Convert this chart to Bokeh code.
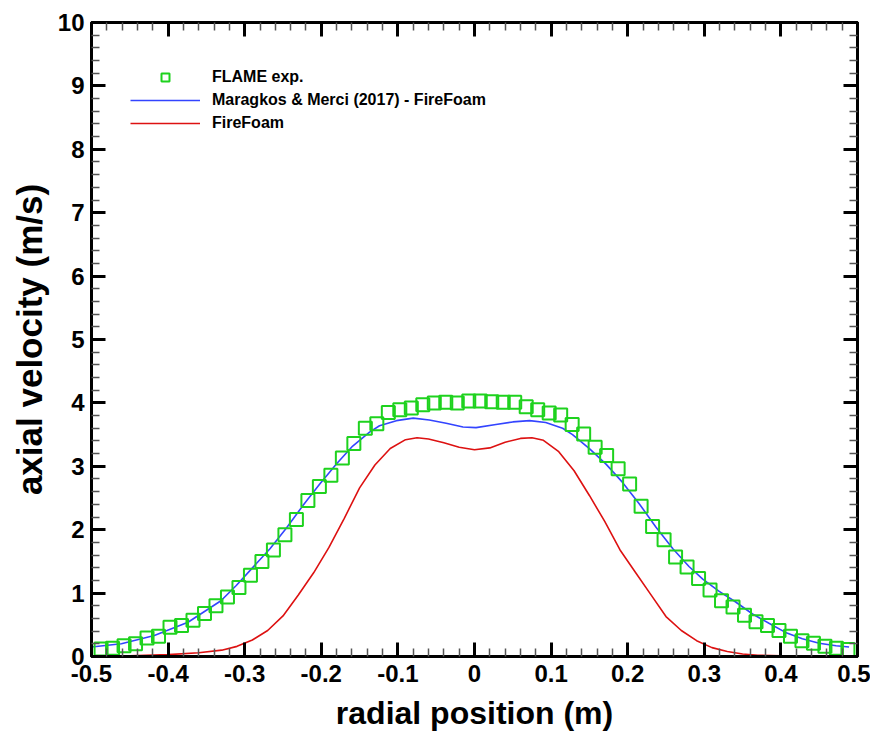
from bokeh.plotting import figure
from bokeh.models import (FixedTicker, LinearAxis, Legend, LegendItem, Range1d,
                          CustomJSTickFormatter)
from bokeh.embed import file_html
from bokeh.resources import INLINE

# ---------------- data ----------------
exp_x = [-0.4875, -0.4725, -0.4575, -0.4425, -0.4275, -0.4125, -0.3975, -0.3825,
         -0.3675, -0.3525, -0.3375, -0.3225, -0.3075, -0.2925, -0.2775, -0.2625,
         -0.2475, -0.2325, -0.2175, -0.2025, -0.1875, -0.1725, -0.1575, -0.1425,
         -0.1275, -0.1125, -0.0975, -0.0825, -0.0675, -0.0525, -0.0375, -0.0225,
         -0.0075, 0.0075, 0.0225, 0.0375, 0.0525, 0.0675, 0.0825, 0.0975,
         0.1125, 0.1275, 0.1425, 0.1575, 0.1725, 0.1875, 0.2025, 0.2175,
         0.2325, 0.2475, 0.2625, 0.2775, 0.2925, 0.3075, 0.3225, 0.3375,
         0.3525, 0.3675, 0.3825, 0.3975, 0.4125, 0.4275, 0.4425, 0.4575,
         0.4725, 0.4875]
exp_y = [0.12, 0.13, 0.17, 0.20, 0.29, 0.32, 0.46, 0.49,
         0.57, 0.68, 0.80, 0.94, 1.09, 1.28, 1.50, 1.68,
         1.92, 2.16, 2.46, 2.68, 2.86, 3.13, 3.36, 3.60,
         3.67, 3.85, 3.89, 3.92, 3.97, 4.00, 4.01, 4.00,
         4.03, 4.03, 4.02, 4.01, 4.01, 3.94, 3.89, 3.84,
         3.81, 3.66, 3.51, 3.30, 3.17, 2.96, 2.72, 2.37,
         2.05, 1.84, 1.57, 1.41, 1.23, 1.05, 0.88, 0.78,
         0.65, 0.55, 0.49, 0.41, 0.32, 0.25, 0.21, 0.16,
         0.13, 0.11]

maragkos_x = [-0.5, -0.461, -0.418, -0.374, -0.331, -0.311, -0.289, -0.267, -0.246,
              -0.224, -0.202, -0.180, -0.159, -0.137, -0.124, -0.102, -0.080, -0.059,
              -0.037, -0.015, 0.002, 0.028, 0.050, 0.072, 0.093, 0.115, 0.128, 0.150,
              0.172, 0.193, 0.215, 0.237, 0.259, 0.280, 0.298, 0.319, 0.341, 0.363,
              0.385, 0.406, 0.428, 0.450, 0.472, 0.489]
maragkos_y = [0.15, 0.20, 0.33, 0.54, 0.88, 1.12, 1.41, 1.70, 2.02,
              2.38, 2.72, 3.04, 3.32, 3.54, 3.64, 3.72, 3.76, 3.73,
              3.68, 3.62, 3.61, 3.66, 3.70, 3.72, 3.69, 3.60, 3.50, 3.28,
              3.03, 2.75, 2.41, 2.04, 1.70, 1.42, 1.22, 1.03, 0.86, 0.67,
              0.52, 0.38, 0.28, 0.21, 0.17, 0.15]

firefoam_x = [-0.5, -0.45, -0.40, -0.36, -0.33, -0.31, -0.29, -0.27, -0.25,
              -0.23, -0.21, -0.19, -0.17, -0.15, -0.13, -0.11, -0.09, -0.075,
              -0.06, -0.04, -0.02, 0.0, 0.02, 0.04, 0.06, 0.075, 0.09, 0.11,
              0.13, 0.15, 0.17, 0.19, 0.21, 0.23, 0.25, 0.27, 0.29, 0.31,
              0.33, 0.35, 0.37, 0.40, 0.45, 0.5]
firefoam_y = [0.00, 0.01, 0.03, 0.06, 0.10, 0.16, 0.26, 0.41, 0.64,
              0.97, 1.32, 1.72, 2.18, 2.66, 3.02, 3.28, 3.42, 3.45,
              3.43, 3.37, 3.30, 3.26, 3.29, 3.38, 3.44, 3.45, 3.41, 3.23,
              2.93, 2.54, 2.13, 1.68, 1.33, 0.98, 0.63, 0.41, 0.25, 0.14,
              0.08, 0.04, 0.02, 0.01, 0.00, 0.00]

x_ticks = [-0.5, -0.4, -0.3, -0.2, -0.1, 0.0, 0.1, 0.2, 0.3, 0.4, 0.5]
x_tick_labels = ["-0.5", "-0.4", "-0.3", "-0.2", "-0.1", "0", "0.1", "0.2", "0.3", "0.4", "0.5"]
y_ticks = [0, 1, 2, 3, 4, 5, 6, 7, 8, 9, 10]
y_tick_labels = ["0", "1", "2", "3", "4", "5", "6", "7", "8", "9", "10"]

series_labels = ["FLAME exp.", "Maragkos & Merci (2017) - FireFoam", "FireFoam"]
x_title = "radial position (m)"
y_title = "axial velocity (m/s)"

# ---------------- figure ----------------
FONT = "Liberation Sans"
W, H = 870, 733
p = figure(width=W, height=H, output_backend="svg", toolbar_location=None,
           x_range=Range1d(-0.5, 0.5), y_range=Range1d(0, 10),
           min_border_left=91, min_border_right=W - 857, min_border_top=22,
           min_border_bottom=H - 656)
p.xgrid.visible = False
p.ygrid.visible = False
p.outline_line_color = "black"
p.outline_line_width = 3
p.background_fill_color = "white"

x_minor = [round(t + 0.02 * j, 4) for t in x_ticks[:-1] for j in range(1, 5)]
y_minor = [round(t + 0.2 * j, 4) for t in y_ticks[:-1] for j in range(1, 5)]
xtk = FixedTicker(ticks=x_ticks, minor_ticks=x_minor)
ytk = FixedTicker(ticks=y_ticks, minor_ticks=y_minor)


def style_axis(ax, ticker, labels=None, show=True, title_size="32px"):
    ax.ticker = ticker
    ax.axis_line_width = 3
    ax.axis_line_color = "black"
    ax.major_tick_in = 14
    ax.major_tick_out = 0
    ax.minor_tick_in = 8
    ax.minor_tick_out = 0
    ax.major_tick_line_width = 3
    ax.major_tick_line_color = "black"
    ax.minor_tick_line_width = 1.5
    ax.minor_tick_line_color = "#555555"
    if show:
        ax.major_label_overrides = labels
        ax.major_label_text_font = FONT
        ax.major_label_text_font_style = "bold"
        ax.major_label_text_font_size = "24px"
        ax.major_label_text_color = "black"
        ax.axis_label_text_font = FONT
        ax.axis_label_text_font_style = "bold"
        ax.axis_label_text_font_size = title_size
        ax.axis_label_text_color = "black"
    else:
        ax.formatter = CustomJSTickFormatter(code="return ''")
        ax.major_label_text_font_size = "2px"
        ax.major_label_standoff = 0
        ax.axis_label = None


xax = p.xaxis[0]
yax = p.yaxis[0]
style_axis(xax, xtk, {t: l for t, l in zip(x_ticks, x_tick_labels)}, title_size="32px")
style_axis(yax, ytk, {t: l for t, l in zip(y_ticks, y_tick_labels)}, title_size="35px")
xax.axis_label = x_title
yax.axis_label = y_title
xax.major_label_standoff = 8
xax.axis_label_standoff = 10
yax.major_label_standoff = 7
yax.axis_label_standoff = 6

top_ax = LinearAxis()
right_ax = LinearAxis()
style_axis(top_ax, xtk, show=False)
style_axis(right_ax, ytk, show=False)
p.add_layout(top_ax, "above")
p.add_layout(right_ax, "right")

# ---------------- glyphs ----------------
r_red = p.line(firefoam_x, firefoam_y, line_color="#dd1111", line_width=1.6)
r_blue = p.line(maragkos_x, maragkos_y, line_color="#3344ff", line_width=1.6)
r_exp = p.scatter(exp_x, exp_y, marker="square", size=13, fill_color=None,
                  line_color="#1ed21e", line_width=2)

legend = Legend(items=[LegendItem(label=series_labels[0], renderers=[r_exp]),
                       LegendItem(label=series_labels[1], renderers=[r_blue]),
                       LegendItem(label=series_labels[2], renderers=[r_red])],
                location=(39, 523))
legend.background_fill_alpha = 0
legend.border_line_color = None
legend.padding = 0
legend.margin = 0
legend.spacing = 3
legend.glyph_width = 70
legend.glyph_height = 20
legend.label_height = 20
legend.label_standoff = 12
legend.label_text_font = FONT
legend.label_text_font_style = "bold"
legend.label_text_font_size = "16px"
legend.label_text_color = "black"
p.add_layout(legend, "center")

open("out.html", "w").write(file_html(p, INLINE))
